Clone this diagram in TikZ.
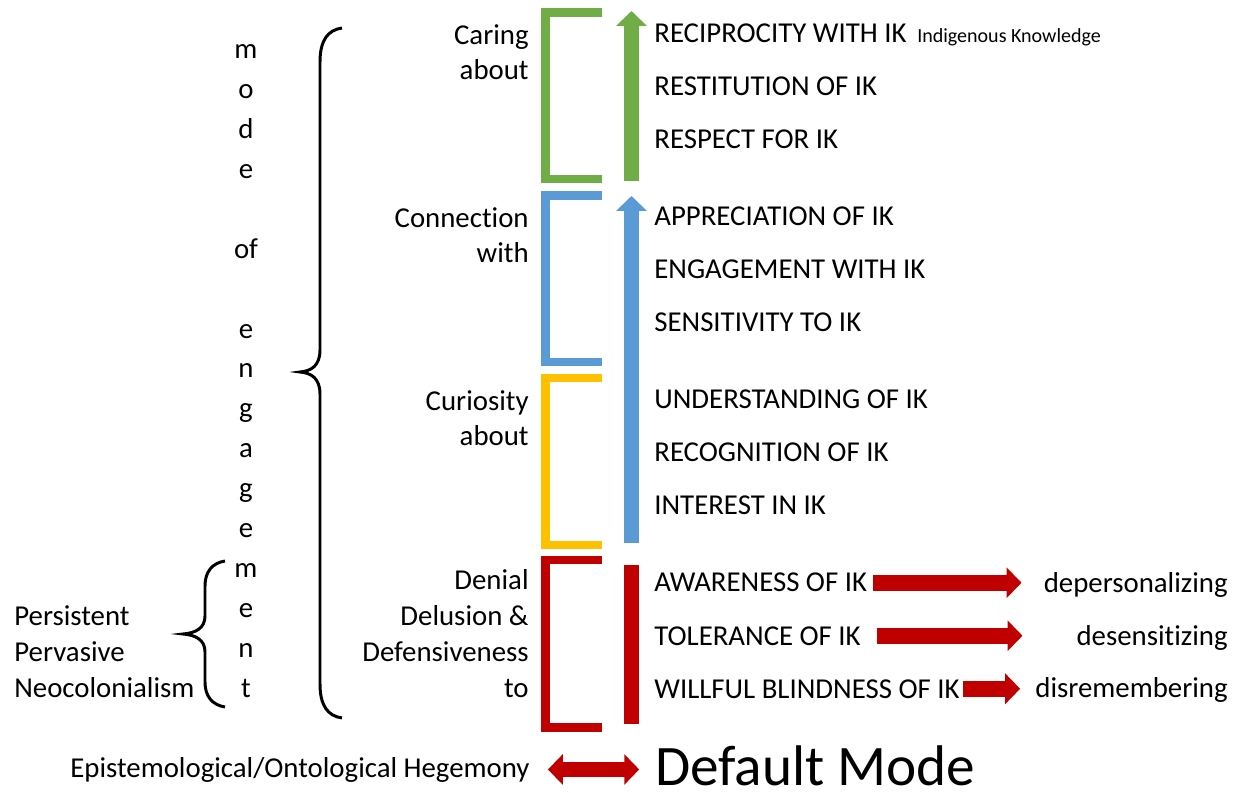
\documentclass[tikz,border=0pt]{standalone}
\usepackage{fontspec}
\setmainfont{Carlito}[Ligatures=NoCommon]
\usetikzlibrary{arrows.meta,positioning}
\definecolor{ikgreen}{RGB}{112,173,71}
\definecolor{ikblue}{RGB}{91,155,213}
\definecolor{ikyellow}{RGB}{255,192,0}
\definecolor{ikred}{RGB}{192,0,0}

\begin{document}
\begin{tikzpicture}[x=0.02cm, y=-0.02cm,
    ikitem/.style={anchor=base west, inner sep=0pt, font=\fontsize{16.4}{20.4}\selectfont},
    lefttxt/.style={anchor=base west, align=left, inner sep=0pt, font=\fontsize{16.4}{20.4}\selectfont},
    righttxt/.style={anchor=base east, align=right, inner sep=0pt, font=\fontsize{16.4}{20.4}\selectfont},
    smalltxt/.style={inner sep=0pt, font=\fontsize{11.4}{14}\selectfont},
    bigtxt/.style={anchor=base west, inner sep=0pt, font=\fontsize{32.6}{38}\selectfont},
    bracket/.style={line width=5.1pt, line join=miter},
    brace/.style={line width=1.7pt},
    uparrow/.style={line width=8.5pt, -{Triangle[length=8.5pt,width=17pt]}},
    fatarrow/.style={line width=9pt, draw=ikred, -{Triangle[length=8.5pt,width=17pt]}},
    dblarrow/.style={line width=8pt, draw=ikred,
      {Triangle[length=8.5pt,width=17pt]}-{Triangle[length=8.5pt,width=17pt]}}]
    \useasboundingbox (0,0) rectangle (1241,793);
    % brackets
    \draw[bracket, ikgreen] (602,12.5) -- (545.5,12.5) -- (545.5,179) -- (602,179);
    \draw[bracket, ikblue] (602,195.5) -- (545.5,195.5) -- (545.5,362) -- (602,362);
    \draw[bracket, ikyellow] (602,378) -- (545.5,378) -- (545.5,545) -- (602,545);
    \draw[bracket, ikred] (602,560) -- (545.5,560) -- (545.5,727.5) -- (602,727.5);
    % arrows up
    \draw[uparrow, ikgreen] (631.5,181) -- (631.5,11);
    \draw[uparrow, ikblue] (631.5,543) -- (631.5,196);
    \fill[ikred] (624,565) rectangle (639,724);
    % right column
    \node[ikitem] (A) at (654,43) {RECIPROCITY WITH IK};
    \node[smalltxt, base right=5.7pt of A] (Ak) {Indigenous Knowledge};
    \node[ikitem] (B) at (654,96) {RESTITUTION OF IK};
    \node[ikitem] (C) at (654,149) {RESPECT FOR IK};
    \node[ikitem] (D) at (654,226) {APPRECIATION OF IK};
    \node[ikitem] (E) at (654,279) {ENGAGEMENT WITH IK};
    \node[ikitem] (F) at (654,332) {SENSITIVITY TO IK};
    \node[ikitem] (G) at (654,409) {UNDERSTANDING OF IK};
    \node[ikitem] (H) at (654,462) {RECOGNITION OF IK};
    \node[ikitem] (I) at (654,515) {INTEREST IN IK};
    \node[ikitem] (J) at (654,592) {AWARENESS OF IK};
    \node[ikitem] (K) at (654,645) {TOLERANCE OF IK};
    \node[ikitem] (L) at (654,698) {WILLFUL BLINDNESS OF IK};
    \node[righttxt] (P) at (1228,593) {depersonalizing};
    \node[righttxt] (Q) at (1228,645) {desensitizing};
    \node[righttxt] (S) at (1228,697) {disremembering};
    \draw[fatarrow, shorten <=3.4pt, shorten >=12.5pt] (J.east) -- (J.east -| P.west);
    \draw[fatarrow, shorten <=8.8pt, shorten >=30.6pt] (K.east) -- (K.east -| Q.west);
    \draw[fatarrow, shorten <=1.7pt, shorten >=8.5pt] (L.east) -- (L.east -| S.west);
    % left labels
    \node[righttxt] (Ca) at (529,80) {Caring\\about};
    \node[righttxt] (Co) at (529,263) {Connection\\with};
    \node[righttxt] (Cu) at (529,446) {Curiosity\\about};
    \node[righttxt] (De) at (529,697) {Denial\\Delusion \&\\Defensiveness\\to};
    \node[lefttxt] (Pn) at (14,697) {Persistent\\Pervasive\\Neocolonialism};
    \node[anchor=base, align=center, inner sep=0pt, font=\fontsize{16.4}{22.7}\selectfont]
      (Mode) at (246,697) {m\\o\\d\\e\\[22.7pt]of\\[22.7pt]e\\n\\g\\a\\g\\e\\m\\e\\n\\t};
    % braces
    \draw[brace] (342,28) .. controls (328,30) and (320,40) .. (320,62) -- (320,350)
      .. controls (320,366) and (311,371) .. (300,372)
      .. controls (311,373) and (320,378) .. (320,394) -- (320,684)
      .. controls (320,706) and (328,716) .. (342,718);
    \draw[brace] (225,561) .. controls (212,563) and (205,572) .. (205,586) -- (205,616)
      .. controls (205,628) and (196,633) .. (183,634)
      .. controls (196,635) and (205,640) .. (205,652) -- (205,682)
      .. controls (205,696) and (212,705) .. (225,707);
    % bottom line
    \node[righttxt] (Heg) at (530,777) {Epistemological/Ontological Hegemony};
    \node[bigtxt] (Dm) at (655,785) {Default Mode};
    \draw[dblarrow, shorten <=10.2pt, shorten >=9pt] (Heg.east) -- (Heg.east -| Dm.west);
\end{tikzpicture}
\end{document}
